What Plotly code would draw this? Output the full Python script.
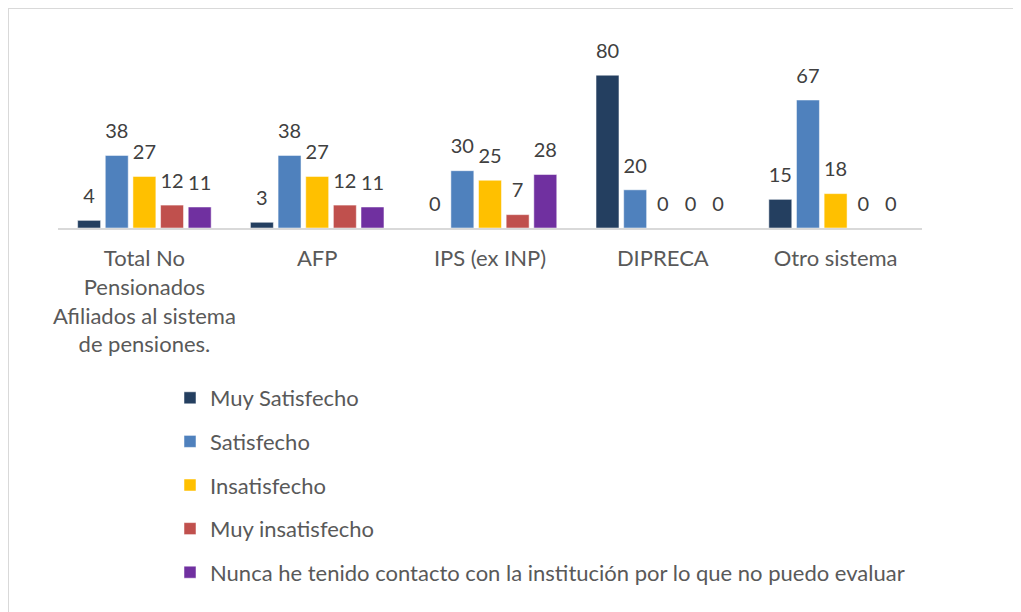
import plotly.graph_objects as go

categories = ["Total No<br>Pensionados<br>Afiliados al sistema<br>de pensiones.", "AFP", "IPS (ex INP)", "DIPRECA", "Otro sistema"]
series_names = ["Muy Satisfecho", "Satisfecho", "Insatisfecho", "Muy insatisfecho",
                "Nunca he tenido contacto con la institución por lo que no puedo evaluar"]
muy_satisfecho = [4, 3, 0, 80, 15]
satisfecho = [38, 38, 30, 20, 67]
insatisfecho = [27, 27, 25, 0, 18]
muy_insatisfecho = [12, 12, 7, 0, 0]
nunca = [11, 11, 28, 0, 0]
values = [muy_satisfecho, satisfecho, insatisfecho, muy_insatisfecho, nunca]
colors = ["#243F60", "#4F81BD", "#FFC000", "#C0504D", "#7030A0"]

W, H = 1021, 612
L, R, T, B = 50, 107, 29, 392
PW, PH = W - L - R, H - T - B
FONT = "Lato"
GRAY = "#595959"

fig = go.Figure()
for i, (name, vals, col) in enumerate(zip(series_names, values, colors)):
    fig.add_trace(go.Bar(
        name=name, x=categories, y=vals, marker_color=col,
        marker_line_color="white", marker_line_width=0.5,
        offsetgroup=str(i), legendgroup=str(i),
    ))
for i, vals in enumerate(values):
    fig.add_trace(go.Scatter(
        x=categories, y=vals, mode="markers+text", text=[str(v) for v in vals],
        textposition="top center", offsetgroup=str(i), showlegend=False,
        marker=dict(size=18, color="rgba(0,0,0,0)"),
        cliponaxis=False, textfont=dict(family=FONT, size=20, color="#404040"),
        hoverinfo="skip",
    ))


def px_x(p):
    return (p - L) / PW


def px_y(p):
    return (H - B - p) / PH


fig.update_layout(
    width=W, height=H,
    margin=dict(l=L, r=R, t=T, b=B, autoexpand=False),
    paper_bgcolor="white", plot_bgcolor="white",
    barmode="group", scattermode="group",
    bargap=0.2, bargroupgap=0.17,
    font=dict(family=FONT, size=22, color=GRAY),
    showlegend=True,
    legend=dict(
        orientation="v", xref="container", yref="container",
        x=162 / W, y=1 - 369 / H, xanchor="left", yanchor="top",
        font=dict(family=FONT, size=22, color=GRAY),
        traceorder="grouped", tracegroupgap=12,
        bgcolor="rgba(0,0,0,0)",
    ),
    xaxis=dict(
        showgrid=False, showline=True, linecolor="#D9D9D9", linewidth=2,
        ticks="", tickfont=dict(family=FONT, size=22, color=GRAY),
        tickangle=0, automargin=False, ticklabelstandoff=10,
    ),
    yaxis=dict(range=[0, 100], visible=False, showgrid=False, zeroline=False,
               automargin=False),
    shapes=[
        dict(type="line", xref="paper", yref="paper",
             x0=px_x(0), x1=px_x(W + 5), y0=px_y(0), y1=px_y(0),
             line=dict(color="#D9D9D9", width=2)),
        dict(type="line", xref="paper", yref="paper",
             x0=px_x(0), x1=px_x(0), y0=px_y(0), y1=px_y(H + 5),
             line=dict(color="#D9D9D9", width=2)),
    ],
)

fig.write_html("out.html")
